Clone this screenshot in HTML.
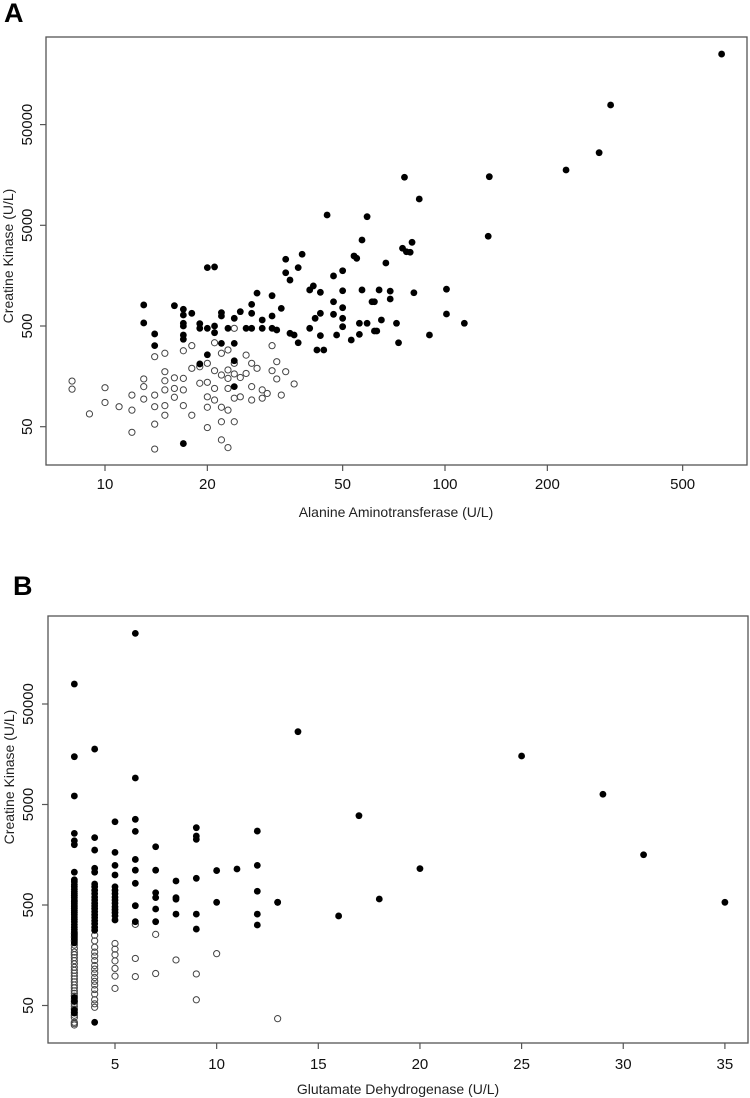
<!DOCTYPE html>
<html><head><meta charset="utf-8">
<style>
html,body{margin:0;padding:0;background:#fff;}
svg{display:block;font-family:"Liberation Sans",Arial,sans-serif;}
</style></head>
<body>
<svg id="chart" width="750" height="1098" viewBox="0 0 750 1098">
  <text x="4" y="22" font-size="27" font-weight="bold" fill="#000">A</text>
  <text x="13" y="595" font-size="27" font-weight="bold" fill="#000">B</text>
  <g id="panelA"></g>
  <g id="panelB"></g>
</svg>
<script>
// ---------- Panel A data ----------
const aXTicks = [10, 20, 50, 100, 200, 500];
const aYTicks = [50, 500, 5000, 50000];
const aFilledALT = [13,13,14,14,16,17,17,17,17,17,17,18,19,19,19,20,21,20,20,21,21,22,22,22,23,24,24,24,24,25,26,27,27,27,28,29,29,31,31,31,32,33,34,34,35,35,36,37,37,38,40,41,43,40,41.5,43,43,42,44,45,47,50,47,47,48,50,50,50,50,53,54,55,57,59,57,56,56,59,61,62,17,
  651,307,284,227,135,76,84,134,80,75,77,79,67,64,69,69,81,101,101,65,72,114,90,73,63,62];
const aFilledCK = [809,536,417,319,796,733,643,532,500,407,369,668,527,474,210,1900,1930,259,474,500,429,678,628,336,474,226,125,596,336,694,474,820,668,474,1060,574,474,1000,628,474,456,748,1690,2300,1430,423,407,341,1900,2580,1140,1250,1080,474,596,668,401,289,289,6330,1570,1770,653,871,407,760,596,1120,492,363,2480,2350,3570,6090,1140,532,413,532,871,446,34,
  251000,78300,26300,17700,15200,15000,9120,3890,3390,2960,2730,2700,2110,1140,1110,927,1070,1160,658,574,532,532,407,341,446,871];
const aOpenALT = [8,8,10,10,9,11,12,12,12,13,13,13,14,14,14,14,14,15,15,15,15,15,15,16,16,16,17,17,17,17,18,18,18,19,19,20,20,20,20,20,21,21,21,21,22,22,22,22,22,23,23,23,23,23,23,24,24,24,24,25,25,26,26,27,27,27,28,29,29,30,31,31,32,32,34,36,33,24];
const aOpenCK = [142,118,122,87,67,79,103,73,44,149,125,94,248,103,79,53,30,268,176,143,116,81,65,153,120,98,284,151,116,81,319,190,65,197,135,213,138,99,78,49,341,180,120,92,268,163,78,56,37,289,183,151,120,73,31,213,167,96,56,154,99,257,169,213,125,92,190,116,96,107,319,180,221,149,176,133,103,474];

// ---------- Panel B data ----------
const bXTicks = [5, 10, 15, 20, 25, 30, 35];
const bYTicks = [50, 500, 5000, 50000];
const bFilledGLDH = [3,3,3,3,3,3,3,3,3,3,3,3,3,3,3,3,3,3,3,3,3,3,3,3,3,3,3,3,3,3,3,3,3,3,3,3,3,3,3,
  4,4,4,4,4,4,4,4,4,4,4,4,4,4,4,4,4,4,4,4,4,4,
  5,5,5,5,5,5,5,5,5,5,5,5,5,5,5,
  6,6,6,6,6,6,6,6,6,
  7,7,7,7,7,7,
  8,8,8,8,
  9,9,9,9,9,9,
  10,10,11,12,12,12,12,12,13,13,14,16,17,18,20,25,29,31,35];
const bFilledCK = [79000,14950,6080,2580,2180,1990,1060,890,850,800,760,720,680,650,620,590,560,540,520,500,480,460,440,420,400,380,360,340,320,300,285,270,250,230,210,60,55,45,42,
  17800,2340,1760,1160,1060,809,760,700,650,600,560,520,490,460,430,400,375,350,325,300,280,34,
  3370,1670,1240,995,760,700,650,600,560,520,480,450,420,390,355,
  252000,9180,3560,2700,1420,1110,822,492,341,
  1900,1110,662,592,456,341,
  866,592,570,406,
  2940,2430,2250,922,406,288,
  1100,532,1140,2720,1240,685,406,316,532,532,26500,389,3870,574,1150,15200,6320,1580,532];
const bOpenGLDH = [3,3,3,3,3,3,3,3,3,3,3,3,3,3,3,3,3,3,3,3,3,3,3,3,3,3,3,3,3,3,3,3,
  4,4,4,4,4,4,4,4,4,4,4,4,4,4,4,4,4,
  5,5,5,5,5,5,5,
  6,6,6,7,7,8,9,9,10,13];
const bOpenCK = [260,240,220,200,185,170,160,150,140,130,120,112,105,98,92,86,80,75,70,66,62,58,55,52,49,46,43,40,38,34,33,32,
  250,220,190,170,155,140,125,115,105,95,87,80,72,65,57,52,48,
  207,182,160,139,117,98,74,
  321,147,97,255,104,142,103,57,164,37];

const NS = 'http://www.w3.org/2000/svg';
function mk(tag, attrs, parent) {
  const el = document.createElementNS(NS, tag);
  for (const k in attrs) el.setAttribute(k, attrs[k]);
  parent.appendChild(el);
  return el;
}

// ---------- Panel A ----------
const gA = document.getElementById('panelA');
const aBox = {l: 46, r: 747, t: 37, b: 465};
function axA(v) { return 105 + 340 * (Math.log10(v) - 1); }
function ayA(v) { return 326 - 100.7 * (Math.log10(v) - Math.log10(500)); }

const frameA = mk('rect', {x: aBox.l, y: aBox.t, width: aBox.r - aBox.l, height: aBox.b - aBox.t, fill: 'none', stroke: '#555', 'stroke-width': 1.3}, gA);


aXTicks.forEach(v => {
  const x = axA(v);
  const t = mk('line', {x1: x, x2: x, y1: aBox.b, y2: aBox.b + 6, stroke: '#555', 'stroke-width': 1.2}, gA);
  
  
  const lb = mk('text', {x: x, y: aBox.b + 24, 'font-size': 15, 'text-anchor': 'middle', fill: '#111'}, gA);
  lb.textContent = v;
  
  
});
aYTicks.forEach(v => {
  const y = ayA(v);
  const t = mk('line', {x1: aBox.l - 6, x2: aBox.l, y1: y, y2: y, stroke: '#555', 'stroke-width': 1.2}, gA);
  
  
  const lb = mk('text', {x: 0, y: 0, 'font-size': 15, 'text-anchor': 'middle', fill: '#111', transform: 'translate(32,' + y + ') rotate(-90)'}, gA);
  lb.textContent = v;
  
  
});
const aXT = mk('text', {x: 396, y: 517, 'font-size': 14, 'text-anchor': 'middle', fill: '#222'}, gA);
aXT.textContent = 'Alanine Aminotransferase (U/L)';


const aYT = mk('text', {x: 0, y: 0, 'font-size': 14, 'text-anchor': 'middle', fill: '#222', transform: 'translate(13,256) rotate(-90)'}, gA);
aYT.textContent = 'Creatine Kinase (U/L)';



aOpenALT.forEach((v, i) => {
  const c = mk('circle', {cx: axA(v), cy: ayA(aOpenCK[i]), r: 3.1, fill: 'none', stroke: '#444', 'stroke-width': 1}, gA);
  
  
});
aFilledALT.forEach((v, i) => {
  const c = mk('circle', {cx: axA(v), cy: ayA(aFilledCK[i]), r: 3.4, fill: '#000'}, gA);
  
  
});

// ---------- Panel B ----------
const gB = document.getElementById('panelB');
const bBox = {l: 48, r: 748, t: 616, b: 1043};
function axB(v) { return 115 + 20.33 * (v - 5); }
function ayB(v) { return 905 - 100.5 * (Math.log10(v) - Math.log10(500)); }

const frameB = mk('rect', {x: bBox.l, y: bBox.t, width: bBox.r - bBox.l, height: bBox.b - bBox.t, fill: 'none', stroke: '#555', 'stroke-width': 1.3}, gB);


bXTicks.forEach(v => {
  const x = axB(v);
  const t = mk('line', {x1: x, x2: x, y1: bBox.b, y2: bBox.b + 6, stroke: '#555', 'stroke-width': 1.2}, gB);
  
  
  const lb = mk('text', {x: x, y: bBox.b + 26, 'font-size': 15, 'text-anchor': 'middle', fill: '#111'}, gB);
  lb.textContent = v;
  
  
});
bYTicks.forEach(v => {
  const y = ayB(v);
  const t = mk('line', {x1: bBox.l - 6, x2: bBox.l, y1: y, y2: y, stroke: '#555', 'stroke-width': 1.2}, gB);
  
  
  const lb = mk('text', {x: 0, y: 0, 'font-size': 15, 'text-anchor': 'middle', fill: '#111', transform: 'translate(33,' + y + ') rotate(-90)'}, gB);
  lb.textContent = v;
  
  
});
const bXT = mk('text', {x: 398, y: 1094, 'font-size': 14, 'text-anchor': 'middle', fill: '#222'}, gB);
bXT.textContent = 'Glutamate Dehydrogenase (U/L)';


const bYT = mk('text', {x: 0, y: 0, 'font-size': 14, 'text-anchor': 'middle', fill: '#222', transform: 'translate(14,777) rotate(-90)'}, gB);
bYT.textContent = 'Creatine Kinase (U/L)';



bOpenGLDH.forEach((v, i) => {
  const c = mk('circle', {cx: axB(v), cy: ayB(bOpenCK[i]), r: 3.1, fill: 'none', stroke: '#444', 'stroke-width': 1}, gB);
  
  
});
bFilledGLDH.forEach((v, i) => {
  const c = mk('circle', {cx: axB(v), cy: ayB(bFilledCK[i]), r: 3.4, fill: '#000'}, gB);
  
  
});
</script>
</body></html>
